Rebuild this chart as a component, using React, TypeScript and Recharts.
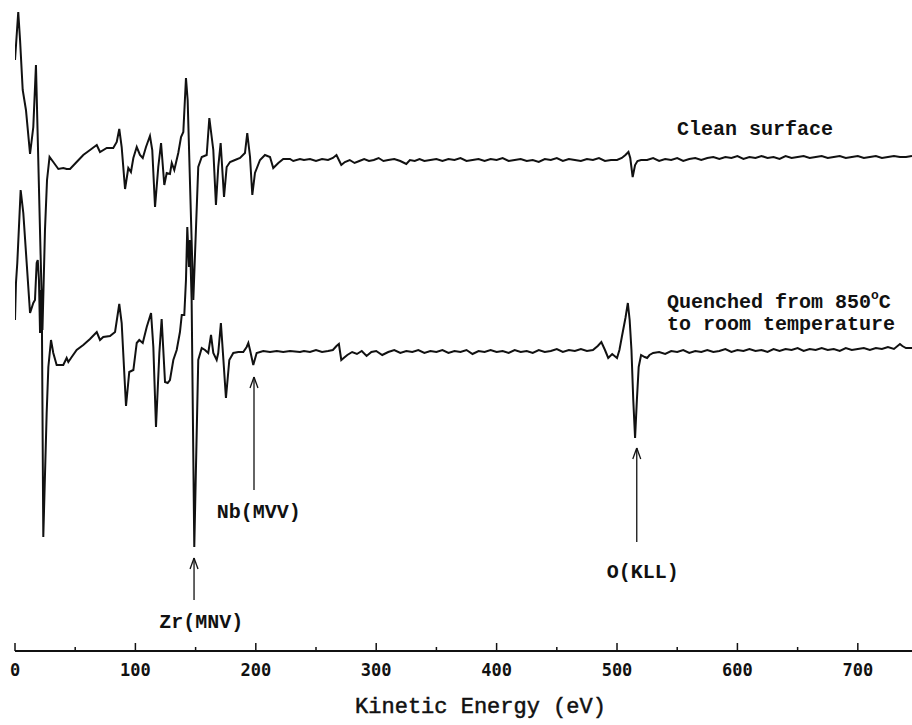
import React from 'react';
import { LineChart, Line, XAxis, YAxis, ReferenceLine, ReferenceDot } from 'recharts';

// Kinetic energy (eV) and dN/dE signal (arbitrary units, measured downward from top)
const cleanEnergy = [
  0, 2.7, 4.2, 6.4, 9.1, 12.5, 15.2, 17.4, 22.8, 24.9,
  26.6, 28.7, 31.8, 36.0, 40.1, 42.9, 45.7, 51.2, 56.7, 62.3,
  67.9, 70.6, 76.2, 81.6, 84.5, 86.6, 88.6, 91.4, 94.1, 96.3,
  98.3, 101.1, 103.8, 106.1, 108.8, 112.1, 114.0, 116.3, 119.0, 121.3,
  124.0, 126.0, 128.7, 130.2, 132.3, 135.6, 137.9, 139.8, 142.0, 143.4,
  148.1, 152.2, 155.1, 159.2, 161.4, 164.7, 166.9, 168.8, 170.8, 173.6,
  175.8, 178.6, 182.7, 186.9, 191.0, 192.9, 195.2, 197.1, 199.3, 203.5,
  207.6, 211.8, 214.5, 218.7, 222.8, 228.4, 231.1, 236.7, 240, 245,
  250, 255, 260, 264, 267, 269, 271, 274, 278, 282,
  286, 290, 294, 298, 302, 306, 310, 315, 320, 325,
  328, 332, 336, 340, 345, 350, 355, 360, 365, 370,
  375, 380, 385, 390, 395, 400, 405, 410, 415, 420,
  425, 430, 435, 440, 445, 450, 455, 460, 465, 470,
  475, 480, 485, 490, 495, 500, 504, 507, 509.5, 511,
  513, 515, 517, 520, 525, 530, 535, 540, 545, 550,
  555, 560, 565, 570, 575, 580, 585, 590, 595, 600,
  605, 610, 615, 620, 625, 630, 635, 640, 645, 650,
  655, 660, 665, 670, 675, 680, 685, 690, 695, 700,
  705, 710, 715, 720, 725, 730, 735, 740, 745,
];
const cleanSignal = [
  60, 12, 40, 90, 110, 154, 127, 65, 330, 230,
  180, 157, 162, 169, 168, 169, 169, 162, 155, 150,
  145, 152, 148, 148, 142, 129, 147, 189, 168, 172,
  158, 147, 155, 158, 147, 136, 150, 207, 167, 143,
  185, 173, 174, 163, 170, 153, 137, 132, 78, 100,
  300, 167, 157, 155, 118, 150, 205, 167, 143, 197,
  167, 162, 160, 158, 153, 133, 157, 195, 173, 160,
  155, 157, 168, 163, 159, 159, 161, 159, 160, 159,
  161, 159, 160, 158, 155, 160, 165, 162, 160, 163,
  161, 159, 161, 160, 158, 161, 160, 159, 161, 164,
  160, 161, 159, 161, 160, 159, 161, 159, 160, 158,
  161, 160, 159, 161, 159, 160, 158, 161, 160, 159,
  161, 160, 162, 159, 160, 158, 161, 159, 160, 161,
  159, 160, 158, 161, 160, 160, 158, 155, 152, 158,
  177, 165, 161, 160, 160, 158, 161, 159, 160, 158,
  161, 159, 158, 160, 158, 157, 159, 157, 158, 156,
  159, 157, 158, 156, 158, 157, 159, 156, 158, 157,
  156, 158, 157, 156, 158, 157, 156, 158, 157, 156,
  158, 157, 156, 158, 157, 156, 157, 157, 156,
];

const quenchEnergy = [
  0, 0.8, 1.9, 4.7, 6.9, 9.7, 12.5, 15.2, 16.6, 18.0,
  18.9, 19.9, 20.8, 21.6, 22.4, 23.5, 26.3, 27.7, 29.9, 31.8,
  34.6, 40.1, 42.9, 44.3, 47.1, 51.2, 56.7, 62.3, 67.9, 70.6,
  73.3, 78.9, 83.1, 86.6, 88.6, 92.2, 94.9, 98.3, 101.1, 103.2,
  106.1, 109.4, 113.0, 114.9, 117.1, 119.9, 121.8, 124.6, 126.8, 128.7,
  131.5, 134.3, 137.0, 138.5, 140.6, 142.0, 143.1, 144.5, 145.3, 146.7,
  148.9, 152.2, 155.1, 157.8, 160.5, 162.8, 164.7, 167.5, 168.8, 171.0,
  173.1, 175.2, 178.0, 181.3, 185.5, 189.6, 192.4, 193.8, 195.2, 197.9,
  200.7, 206.2, 211.8, 217.4, 222.8, 228.4, 236.7, 240, 245, 250,
  255, 260, 264, 267, 269, 271, 273, 276, 280, 284,
  288, 292, 296, 300, 305, 310, 315, 320, 325, 330,
  335, 340, 345, 350, 355, 360, 365, 370, 375, 380,
  385, 390, 395, 400, 405, 410, 415, 420, 425, 430,
  435, 440, 445, 450, 455, 460, 465, 470, 475, 480,
  484, 487, 490, 492.7, 496, 500, 502, 504, 507, 509,
  510.5, 512, 513.5, 515, 516.5, 518, 520, 523, 525, 527,
  530, 535, 540, 545, 550, 555, 560, 565, 570, 575,
  580, 585, 590, 595, 600, 605, 610, 615, 620, 625,
  630, 635, 640, 645, 650, 655, 660, 665, 670, 675,
  680, 685, 690, 695, 700, 705, 710, 715, 720, 725,
  730, 735, 737, 740, 745,
];
const quenchSignal = [
  320, 283, 263, 190, 213, 263, 313, 303, 300, 263,
  260, 280, 333, 290, 330, 537, 413, 367, 340, 353,
  365, 365, 358, 362, 357, 350, 345, 339, 332, 340,
  337, 336, 332, 304, 323, 406, 372, 370, 343, 340,
  343, 327, 313, 347, 427, 353, 319, 382, 383, 380,
  360, 350, 332, 315, 315, 280, 227, 267, 240, 300,
  547, 360, 348, 350, 353, 335, 353, 360, 353, 323,
  360, 398, 360, 353, 352, 352, 347, 343, 350, 365,
  353, 351, 352, 351, 352, 351, 352, 351, 352, 350,
  352, 351, 350, 346, 344, 360, 358, 355, 352, 354,
  351, 356, 352, 351, 355, 352, 350, 353, 351, 352,
  350, 353, 351, 352, 350, 353, 351, 352, 350, 354,
  351, 352, 350, 352, 351, 353, 350, 352, 351, 353,
  350, 352, 351, 349, 352, 350, 351, 349, 351, 350,
  346, 342, 350, 358, 354, 358, 350, 337, 318, 303,
  320, 350, 400, 438, 400, 367, 355, 357, 358, 355,
  353, 352, 354, 351, 352, 350, 353, 351, 352, 350,
  352, 351, 349, 352, 350, 351, 349, 351, 350, 352,
  349, 351, 349, 350, 348, 351, 349, 350, 348, 350,
  349, 351, 348, 350, 349, 348, 350, 348, 349, 347,
  349, 344, 346, 348, 348,
];

const xTicks = [0, 50, 100, 150, 200, 250, 300, 350, 400, 450, 500, 550, 600, 650, 700];
const xAxisTitle = 'Kinetic Energy (eV)';

// Peak annotations: arrow position (eV), arrow tip and tail (signal units), label
const peakArrows = [
  { energy: 148.7, tip: 558, tail: 600 },
  { energy: 198.5, tip: 377, tail: 490 },
  { energy: 516.4, tip: 448, tail: 542 },
];
const peakLabels = [
  { energy: 119.9, level: 628, text: 'Zr(MNV)' },
  { energy: 167.5, level: 518, text: 'Nb(MVV)' },
  { energy: 491.4, level: 578, text: 'O(KLL)' },
];
const traceLabels = [
  { energy: 549.8, level: 135, text: 'Clean surface' },
  { energy: 541.5, level: 308, text: 'Quenched from 850', sup: 'o', tail: 'C' },
  { energy: 541.5, level: 330, text: 'to room temperature' },
];

const cleanData = cleanEnergy.map((x, i) => ({ x, y: cleanSignal[i] }));
const quenchData = quenchEnergy.map((x, i) => ({ x, y: quenchSignal[i] }));

const INK = '#111';
const monoFont = "'Liberation Mono', 'Courier New', monospace";

const AxisTick = (props: any) => {
  const { x, y, payload } = props;
  const v = payload.value as number;
  const major = v % 100 === 0;
  return (
    <g>
      <line x1={x} x2={x} y1={y} y2={y - (major ? 8 : 4)} stroke={INK} strokeWidth={1.5} />
      {major && (
        <text
          x={x}
          y={y + 25}
          textAnchor="middle"
          fontFamily="'DejaVu Sans Mono', monospace"
          fontWeight="bold"
          fontSize={17}
          fill={INK}
        >
          {v}
        </text>
      )}
    </g>
  );
};

const AxisTitle = (props: any) => {
  const vb = props.viewBox || { x: 15, y: 651, width: 897, height: 74 };
  return (
    <text
      x={vb.x + vb.width / 2 + 17}
      y={vb.y + 62}
      textAnchor="middle"
      fontFamily={monoFont}
      fontSize={22}
      fill={INK}
      stroke={INK}
      strokeWidth={0.5}
    >
      {xAxisTitle}
    </text>
  );
};

const makeTextShape = (lbl: any) => (p: any) => (
  <text
    x={p.cx}
    y={p.cy}
    textAnchor="start"
    fontFamily={monoFont}
    fontWeight="bold"
    fontSize={20}
    fill={INK}
  >
    {lbl.text}
    {lbl.sup && (
      <tspan fontSize={13} dy={-9}>
        {lbl.sup}
      </tspan>
    )}
    {lbl.tail && <tspan dy={9}>{lbl.tail}</tspan>}
  </text>
);

export default function App() {
  return (
    <div style={{ position: 'absolute', left: 0, top: 0, width: 912, height: 725, background: '#fff' }}>
      <LineChart width={912} height={725} margin={{ top: 0, right: 0, bottom: 0, left: 15 }}>
        <XAxis
          dataKey="x"
          type="number"
          domain={[0, 745]}
          allowDataOverflow
          ticks={xTicks}
          interval={0}
          height={74}
          tickLine={false}
          tickSize={0}
          tickMargin={0}
          tick={<AxisTick />}
          axisLine={{ stroke: INK, strokeWidth: 2 }}
          label={<AxisTitle />}
        />
        <YAxis type="number" domain={[0, 651]} reversed hide allowDataOverflow />
        <Line
          data={cleanData}
          dataKey="y"
          stroke={INK}
          strokeWidth={2}
          dot={false}
          type="linear"
          isAnimationActive={false}
        />
        <Line
          data={quenchData}
          dataKey="y"
          stroke={INK}
          strokeWidth={2}
          dot={false}
          type="linear"
          isAnimationActive={false}
        />
        {peakArrows.map((a, i) => (
          <ReferenceLine
            key={'shaft' + i}
            segment={[{ x: a.energy, y: a.tip }, { x: a.energy, y: a.tail }]}
            stroke={INK}
            strokeWidth={1.3}
            ifOverflow="visible"
          />
        ))}
        {peakArrows.map((a, i) => (
          <ReferenceLine
            key={'hl' + i}
            segment={[{ x: a.energy - 3.3, y: a.tip + 11 }, { x: a.energy, y: a.tip }]}
            stroke={INK}
            strokeWidth={1.3}
            ifOverflow="visible"
          />
        ))}
        {peakArrows.map((a, i) => (
          <ReferenceLine
            key={'hr' + i}
            segment={[{ x: a.energy + 3.3, y: a.tip + 11 }, { x: a.energy, y: a.tip }]}
            stroke={INK}
            strokeWidth={1.3}
            ifOverflow="visible"
          />
        ))}
        {[...peakLabels, ...traceLabels].map((l, i) => (
          <ReferenceDot
            key={'lbl' + i}
            x={l.energy}
            y={l.level}
            r={0}
            ifOverflow="visible"
            shape={makeTextShape(l)}
          />
        ))}
      </LineChart>
    </div>
  );
}
